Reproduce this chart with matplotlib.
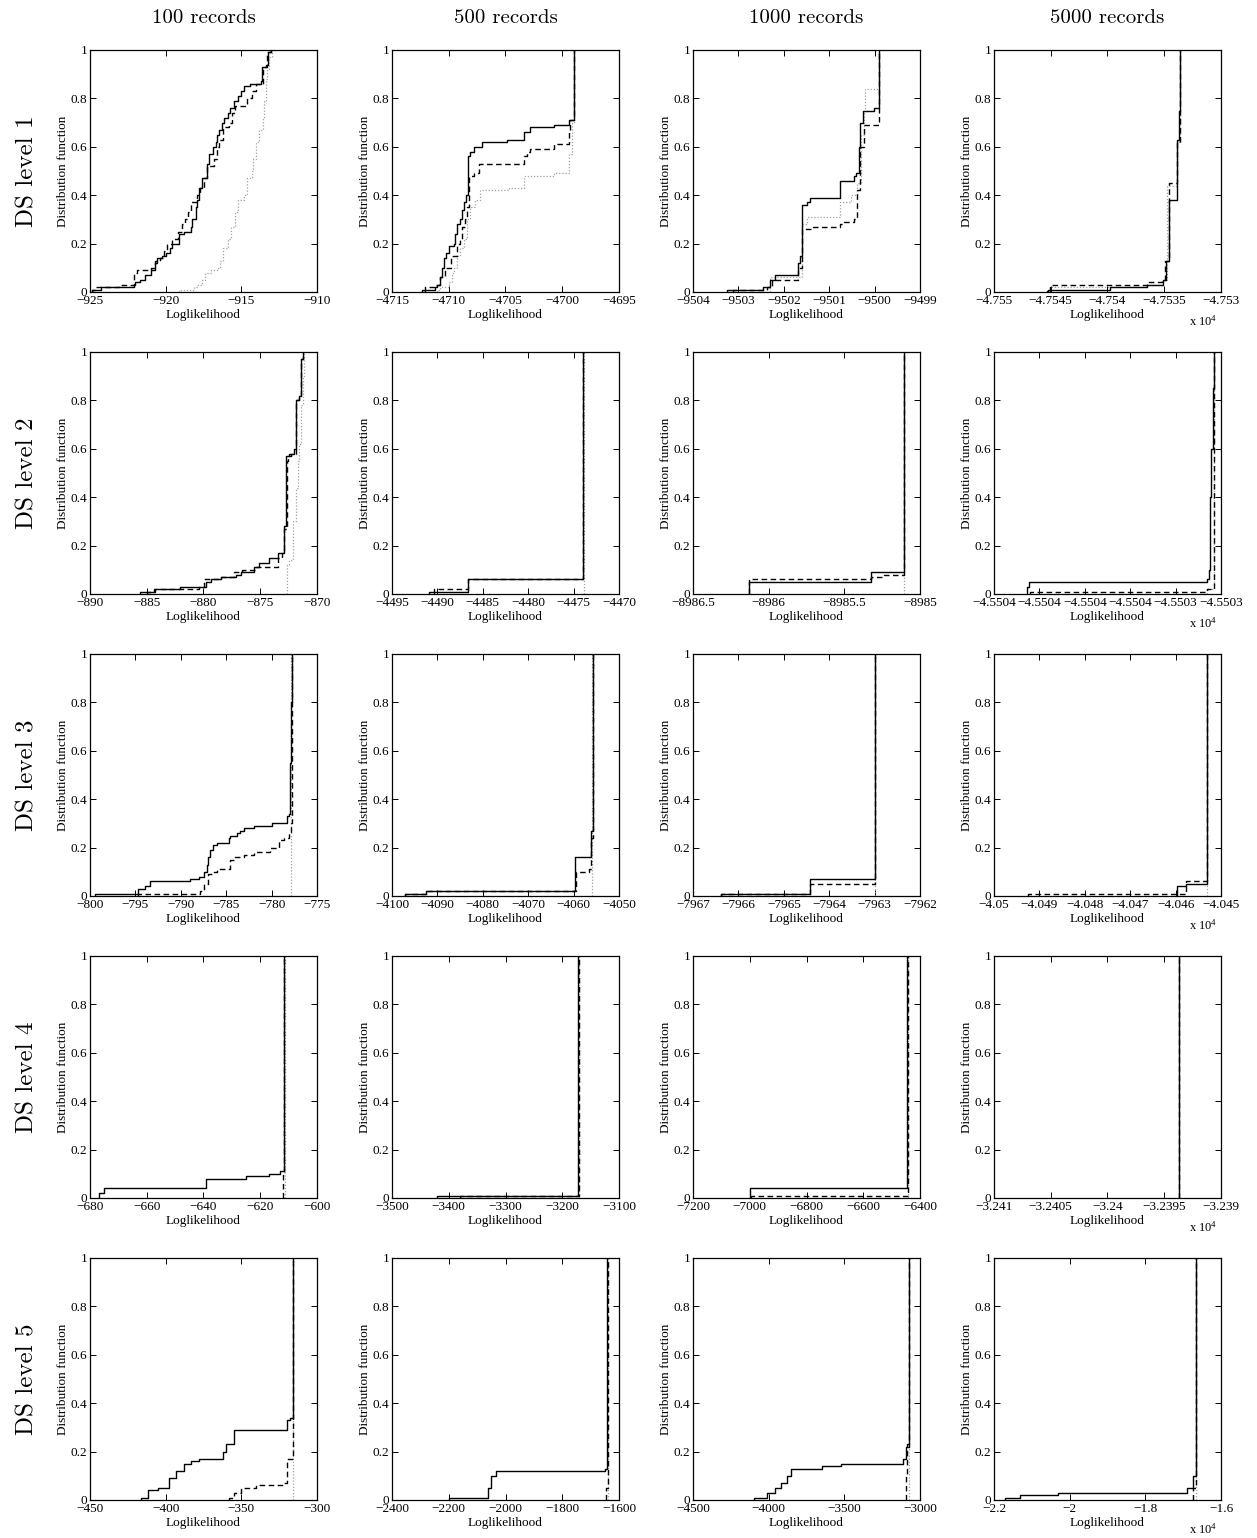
import numpy as np
import matplotlib
matplotlib.use("Agg")
import matplotlib.pyplot as plt

plt.rcParams['font.family'] = ['Liberation Serif', 'DejaVu Serif']
plt.rcParams['mathtext.fontset'] = 'custom'
plt.rcParams['mathtext.rm'] = 'Liberation Serif'
plt.rcParams['mathtext.it'] = 'Liberation Serif:italic'
plt.rcParams['axes.unicode_minus'] = True

# ---------------- labels ----------------
col_titles = ["100 records", "500 records", "1000 records", "5000 records"]
row_titles = ["DS level 1", "DS level 2", "DS level 3", "DS level 4", "DS level 5"]
y_ticks = [0, 0.2, 0.4, 0.6, 0.8, 1]
y_ticklabels = ["0", "0.2", "0.4", "0.6", "0.8", "1"]

# ---------------- row 1 ----------------
r1c1_xticks = [-925, -920, -915, -910]
r1c1_solid_x = [-924.9, -924.3, -923.8, -922.1, -922.0, -921.7, -921.35, -921.0, -920.7, -920.6, -920.25,
                -920.0, -919.7, -919.6, -919.15, -918.8, -918.35, -918.25, -918.0, -917.9, -917.8, -917.6,
                -917.25, -917.15, -916.9, -916.7, -916.6, -916.5, -916.25, -916.15, -915.9, -915.75, -915.5,
                -915.25, -915.05, -914.8, -914.4, -913.7, -913.65, -913.4, -913.25, -913.05]
r1c1_solid_y = [0.01, 0.02, 0.02, 0.03, 0.04, 0.05, 0.07, 0.09, 0.12, 0.14, 0.15,
                0.16, 0.18, 0.20, 0.24, 0.25, 0.27, 0.30, 0.35, 0.38, 0.43, 0.47,
                0.53, 0.57, 0.60, 0.62, 0.65, 0.67, 0.70, 0.72, 0.74, 0.76, 0.79,
                0.81, 0.83, 0.85, 0.86, 0.87, 0.93, 0.94, 0.99, 1.0]
r1c1_dash_x = [-924.9, -924.7, -923.1, -922.1, -921.9, -921.0, -920.7, -920.4, -920.1, -919.9, -919.6,
               -919.2, -918.9, -918.7, -918.5, -918.3, -917.9, -917.7, -917.5, -917.3, -916.8, -916.6,
               -916.5, -916.2, -915.8, -915.6, -915.4, -914.6, -914.3, -914.0, -913.6, -913.3, -913.05]
r1c1_dash_y = [0.01, 0.02, 0.03, 0.08, 0.09, 0.10, 0.13, 0.14, 0.17, 0.20, 0.22,
               0.25, 0.28, 0.30, 0.33, 0.37, 0.40, 0.43, 0.47, 0.52, 0.55, 0.60,
               0.63, 0.68, 0.70, 0.74, 0.77, 0.80, 0.83, 0.86, 0.93, 0.99, 1.0]
r1c1_dot_x = [-919.1, -918.1, -917.9, -917.6, -917.4, -917.0, -916.6, -916.4, -916.2, -915.9, -915.7,
              -915.4, -915.2, -914.8, -914.6, -914.3, -914.2, -914.0, -913.8, -913.6, -913.5, -913.4,
              -913.3, -913.2, -913.0]
r1c1_dot_y = [0.01, 0.02, 0.03, 0.05, 0.08, 0.09, 0.10, 0.13, 0.18, 0.22, 0.27,
              0.33, 0.38, 0.40, 0.47, 0.50, 0.55, 0.62, 0.67, 0.72, 0.79, 0.88,
              0.92, 0.97, 1.0]

r1c2_xticks = [-4715, -4710, -4705, -4700, -4695]
r1c2_solid_x = [-4712.36, -4711.18, -4711.04, -4710.74, -4710.59, -4710.45, -4710.21, -4710.01, -4709.57,
                -4709.42, -4709.27, -4708.98, -4708.83, -4708.63, -4708.45, -4708.33, -4708.10, -4707.80,
                -4707.07, -4704.87, -4703.40, -4702.81, -4700.76, -4699.43, -4698.99]
r1c2_solid_y = [0.01, 0.02, 0.03, 0.06, 0.10, 0.14, 0.16, 0.19, 0.20,
                0.24, 0.28, 0.30, 0.34, 0.37, 0.40, 0.56, 0.58, 0.60,
                0.62, 0.63, 0.66, 0.68, 0.69, 0.71, 1.0]
r1c2_dash_x = [-4712.06, -4711.18, -4710.74, -4710.30, -4709.80, -4709.27, -4708.98, -4708.83, -4708.54,
               -4708.39, -4708.25, -4707.80, -4707.31, -4703.40, -4703.11, -4702.81, -4700.76, -4699.43,
               -4699.29, -4698.99]
r1c2_dash_y = [0.02, 0.03, 0.06, 0.10, 0.15, 0.20, 0.22, 0.27, 0.30,
               0.35, 0.48, 0.49, 0.53, 0.56, 0.58, 0.59, 0.61, 0.66,
               0.71, 1.0]
r1c2_dot_x = [-4711.04, -4710.74, -4710.01, -4709.71, -4709.57, -4709.27, -4708.98, -4708.69, -4708.39,
              -4708.10, -4707.66, -4707.22, -4704.72, -4703.40, -4700.76, -4699.43, -4699.14, -4698.99]
r1c2_dot_y = [0.01, 0.02, 0.04, 0.08, 0.10, 0.15, 0.18, 0.22, 0.30,
              0.35, 0.38, 0.42, 0.43, 0.48, 0.49, 0.57, 0.70, 1.0]

r1c3_xticks = [-9504, -9503, -9502, -9501, -9500, -9499]
r1c3_solid_x = [-9503.26, -9502.45, -9502.30, -9502.19, -9501.68, -9501.64, -9501.60, -9501.49, -9501.42,
                -9500.76, -9500.46, -9500.42, -9500.35, -9500.33, -9500.25, -9500.02, -9499.91]
r1c3_solid_y = [0.01, 0.02, 0.05, 0.07, 0.12, 0.15, 0.36, 0.37, 0.39,
                0.46, 0.48, 0.49, 0.60, 0.70, 0.75, 0.76, 1.0]
r1c3_dash_x = [-9503.12, -9502.38, -9502.27, -9501.68, -9501.60, -9501.35, -9500.76, -9500.68, -9500.46,
               -9500.39, -9500.33, -9500.24, -9499.91]
r1c3_dash_y = [0.01, 0.02, 0.05, 0.10, 0.26, 0.27, 0.28, 0.29, 0.30,
               0.42, 0.60, 0.69, 1.0]
r1c3_dot_x = [-9502.30, -9501.60, -9501.49, -9500.76, -9500.53, -9500.39, -9500.31, -9500.24, -9500.22,
              -9499.91]
r1c3_dot_y = [0.06, 0.28, 0.31, 0.37, 0.40, 0.45, 0.65, 0.75, 0.84, 1.0]

r1c4_xticks = [-47550, -47545, -47540, -47535, -47530]
r1c4_xticklabels = ["-4.755", "-4.7545", "-4.754", "-4.7535", "-4.753"]
r1c4_solid_x = [-47545.29, -47545.23, -47539.78, -47536.54, -47535.07, -47534.83, -47534.62, -47533.89,
                -47533.74, -47533.59]
r1c4_solid_y = [0.005, 0.01, 0.02, 0.03, 0.05, 0.13, 0.38, 0.63, 0.75, 1.0]
r1c4_dash_x = [-47545.08, -47536.54, -47535.21, -47534.92, -47534.62, -47533.89, -47533.59]
r1c4_dash_y = [0.03, 0.04, 0.05, 0.13, 0.45, 0.62, 1.0]
r1c4_dot_x = [-47545.08, -47536.54, -47535.07, -47534.77, -47533.89, -47533.59]
r1c4_dot_y = [0.02, 0.03, 0.05, 0.44, 0.62, 1.0]

# ---------------- row 2 ----------------
r2c1_xticks = [-890, -885, -880, -875, -870]
r2c1_solid_x = [-885.58, -884.40, -882.04, -879.82, -879.38, -878.50, -877.17, -876.73, -875.55, -875.10,
                -874.22, -873.48, -872.95, -872.74, -872.45, -872.01, -871.86, -871.56, -871.42, -871.27]
r2c1_solid_y = [0.01, 0.02, 0.03, 0.05, 0.06, 0.07, 0.08, 0.09, 0.11, 0.13,
                0.15, 0.17, 0.28, 0.57, 0.58, 0.60, 0.80, 0.82, 0.97, 1.0]
r2c1_dash_x = [-884.99, -884.25, -880.41, -879.97, -878.50, -877.32, -876.58, -875.40, -873.48, -873.04,
               -872.89, -872.65, -872.54, -872.30, -871.86, -871.56, -871.42, -871.27]
r2c1_dash_y = [0.01, 0.02, 0.03, 0.06, 0.07, 0.09, 0.10, 0.11, 0.15, 0.17,
               0.27, 0.55, 0.57, 0.58, 0.80, 0.82, 0.97, 1.0]
r2c1_dot_x = [-872.65, -872.45, -872.15, -871.86, -871.71, -871.56, -871.42, -871.27, -871.12]
r2c1_dot_y = [0.12, 0.14, 0.30, 0.44, 0.55, 0.62, 0.78, 0.90, 1.0]

r2c2_xticks = [-4495, -4490, -4485, -4480, -4475, -4470]
r2c2_solid_x = [-4490.89, -4486.68, -4473.92]
r2c2_solid_y = [0.01, 0.06, 1.0]
r2c2_dash_x = [-4490.34, -4486.68, -4473.92]
r2c2_dash_y = [0.02, 0.06, 1.0]
r2c2_dot_x = [-4473.85]
r2c2_dot_y = [1.0]

r2c3_xticks = [-8986.5, -8986, -8985.5, -8985]
r2c3_xticklabels = ["-8986.5", "-8986", "-8985.5", "-8985"]
r2c3_solid_x = [-8986.128, -8985.321, -8985.106]
r2c3_solid_y = [0.05, 0.09, 1.0]
r2c3_dash_x = [-8986.128, -8985.321, -8985.239, -8985.106]
r2c3_dash_y = [0.06, 0.07, 0.08, 1.0]
r2c3_dot_x = [-8985.104]
r2c3_dot_y = [1.0]

r2c4_xticks = [-45504.2, -45504.0, -45503.8, -45503.6, -45503.4, -45503.2]
r2c4_xticklabels = ["-4.5504", "-4.5504", "-4.5504", "-4.5504", "-4.5503", "-4.5503"]
r2c4_solid_x = [-45504.053, -45504.047, -45503.262, -45503.255, -45503.250, -45503.244, -45503.237, -45503.232]
r2c4_solid_y = [0.03, 0.05, 0.06, 0.10, 0.40, 0.60, 0.85, 1.0]
r2c4_dash_x = [-45504.043, -45503.262, -45503.232]
r2c4_dash_y = [0.01, 0.02, 1.0]
r2c4_dot_x = [-45503.262, -45503.232]
r2c4_dot_y = [0.02, 1.0]

# ---------------- row 3 ----------------
r3c1_xticks = [-800, -795, -790, -785, -780, -775]
r3c1_solid_x = [-799.45, -794.67, -793.93, -793.38, -788.97, -788.05, -787.50, -787.13, -786.95, -786.76,
                -786.40, -786.03, -784.74, -784.56, -783.82, -783.46, -783.09, -781.99, -779.96, -778.31,
                -778.13, -777.94, -777.87, -777.76]
r3c1_solid_y = [0.01, 0.03, 0.04, 0.06, 0.07, 0.08, 0.10, 0.13, 0.16, 0.19,
                0.21, 0.22, 0.24, 0.25, 0.26, 0.27, 0.28, 0.29, 0.30, 0.33,
                0.34, 0.55, 0.80, 1.0]
r3c1_dash_x = [-794.67, -787.87, -787.50, -786.95, -786.58, -786.03, -784.56, -784.01, -783.09, -781.99,
               -780.15, -779.23, -778.68, -778.13, -777.87, -777.76]
r3c1_dash_y = [0.01, 0.02, 0.05, 0.09, 0.10, 0.11, 0.15, 0.16, 0.17, 0.18,
               0.20, 0.23, 0.24, 0.26, 0.30, 1.0]
r3c1_dot_x = [-777.87]
r3c1_dot_y = [1.0]

r3c2_xticks = [-4100, -4090, -4080, -4070, -4060, -4050]
r3c2_solid_x = [-4097.07, -4092.52, -4059.68, -4056.23, -4055.72]
r3c2_solid_y = [0.01, 0.02, 0.16, 0.27, 1.0]
r3c2_dash_x = [-4097.07, -4092.52, -4059.53, -4056.60, -4056.09, -4055.72]
r3c2_dash_y = [0.01, 0.02, 0.10, 0.11, 0.24, 1.0]
r3c2_dot_x = [-4055.87]
r3c2_dot_y = [1.0]

r3c3_xticks = [-7967, -7966, -7965, -7964, -7963, -7962]
r3c3_solid_x = [-7966.39, -7964.42, -7963.00]
r3c3_solid_y = [0.01, 0.07, 1.0]
r3c3_dash_x = [-7966.39, -7964.42, -7963.00]
r3c3_dash_y = [0.01, 0.05, 1.0]
r3c3_dot_x = [-7962.99]
r3c3_dot_y = [1.0]

r3c4_xticks = [-40500, -40490, -40480, -40470, -40460, -40450]
r3c4_xticklabels = ["-4.05", "-4.049", "-4.048", "-4.047", "-4.046", "-4.045"]
r3c4_solid_x = [-40459.75, -40457.75, -40453.10]
r3c4_solid_y = [0.04, 0.05, 1.0]
r3c4_dash_x = [-40492.61, -40457.75, -40453.10]
r3c4_dash_y = [0.01, 0.06, 1.0]
r3c4_dot_x = [-40453.05]
r3c4_dot_y = [1.0]

# ---------------- row 4 ----------------
r4c1_xticks = [-680, -660, -640, -620, -600]
r4c1_solid_x = [-677, -675, -639, -625, -617, -613, -611.5]
r4c1_solid_y = [0.02, 0.04, 0.08, 0.09, 0.10, 0.11, 1.0]
r4c1_dash_x = [-612.0, -611.7]
r4c1_dash_y = [0.10, 1.0]
r4c1_dot_x = [-611.4]
r4c1_dot_y = [1.0]

r4c2_xticks = [-3500, -3400, -3300, -3200, -3100]
r4c2_solid_x = [-3420, -3172]
r4c2_solid_y = [0.01, 1.0]
r4c2_dash_x = [-3380, -3171]
r4c2_dash_y = [0.01, 1.0]
r4c2_dot_x = [-3170]
r4c2_dot_y = [1.0]

r4c3_xticks = [-7200, -7000, -6800, -6600, -6400]
r4c3_solid_x = [-7000, -6445]
r4c3_solid_y = [0.04, 1.0]
r4c3_dash_x = [-6995, -6444]
r4c3_dash_y = [0.01, 1.0]
r4c3_dot_x = [-6443]
r4c3_dot_y = [1.0]

r4c4_xticks = [-32410, -32405, -32400, -32395, -32390]
r4c4_xticklabels = ["-3.241", "-3.2405", "-3.24", "-3.2395", "-3.239"]
r4c4_solid_x = [-32393.7]
r4c4_solid_y = [1.0]
r4c4_dash_x = [-32393.7]
r4c4_dash_y = [1.0]
r4c4_dot_x = [-32393.7]
r4c4_dot_y = [1.0]

# ---------------- row 5 ----------------
r5c1_xticks = [-450, -400, -350, -300]
r5c1_solid_x = [-416, -412, -405, -398, -393, -388, -383, -378, -362, -360, -355, -320, -318, -316]
r5c1_solid_y = [0.01, 0.04, 0.05, 0.09, 0.12, 0.15, 0.16, 0.17, 0.20, 0.23, 0.29, 0.33, 0.34, 1.0]
r5c1_dash_x = [-358, -355, -350, -340, -322, -320, -316]
r5c1_dash_y = [0.01, 0.03, 0.05, 0.06, 0.07, 0.17, 1.0]
r5c1_dot_x = [-316]
r5c1_dot_y = [1.0]

r5c2_xticks = [-2400, -2200, -2000, -1800, -1600]
r5c2_solid_x = [-2200, -2060, -2050, -2035, -1650, -1642]
r5c2_solid_y = [0.01, 0.05, 0.10, 0.12, 0.13, 1.0]
r5c2_dash_x = [-1645, -1640]
r5c2_dash_y = [0.05, 1.0]
r5c2_dot_x = [-1640]
r5c2_dot_y = [1.0]

r5c3_xticks = [-4500, -4000, -3500, -3000]
r5c3_solid_x = [-4100, -4010, -3960, -3920, -3880, -3850, -3650, -3520, -3110, -3090, -3075]
r5c3_solid_y = [0.01, 0.03, 0.05, 0.07, 0.10, 0.13, 0.14, 0.15, 0.17, 0.22, 1.0]
r5c3_dash_x = [-3090, -3085, -3070]
r5c3_dash_y = [0.10, 0.23, 1.0]
r5c3_dot_x = [-3070]
r5c3_dot_y = [1.0]

r5c4_xticks = [-22000, -20000, -18000, -16000]
r5c4_xticklabels = ["-2.2", "-2", "-1.8", "-1.6"]
r5c4_solid_x = [-21700, -21300, -20300, -16900, -16750, -16650]
r5c4_solid_y = [0.01, 0.02, 0.03, 0.05, 0.10, 1.0]
r5c4_dash_x = [-16750, -16650]
r5c4_dash_y = [0.05, 1.0]
r5c4_dot_x = [-16650]
r5c4_dot_y = [1.0]

# ---------------- drawing ----------------
W, H = 1257, 1538
fig = plt.figure(figsize=(W / 100, H / 100), dpi=100)

col_left = [90, 392, 693, 994]
row_top = [50, 352, 654, 956, 1258]
ax_w, ax_h = 227, 242

g = globals()


def stairs(ax, xs, ys, **kw):
    xs = np.asarray(xs, float)
    ys = np.asarray(ys, float)
    ax.step(np.r_[xs[0], xs], np.r_[0.0, ys], where='post', **kw)


def fmt(v):
    return v.replace('-', '\u2212')


for r in range(5):
    for c in range(4):
        key = f"r{r+1}c{c+1}"
        ax = fig.add_axes([col_left[c] / W, 1 - (row_top[r] + ax_h) / H, ax_w / W, ax_h / H])
        stairs(ax, g[key + "_dot_x"], g[key + "_dot_y"], color='#a0a0a0', lw=0.9,
               linestyle=(0, (1, 1.5)))
        stairs(ax, g[key + "_dash_x"], g[key + "_dash_y"], color='black', lw=1.0,
               linestyle=(0, (4, 2.5)))
        stairs(ax, g[key + "_solid_x"], g[key + "_solid_y"], color='black', lw=1.0)
        xt = g[key + "_xticks"]
        ax.set_xlim(xt[0], xt[-1])
        ax.set_ylim(0, 1)
        ax.set_xticks(xt)
        if key + "_xticklabels" in g:
            labels = g[key + "_xticklabels"]
        else:
            labels = [('%g' % v) for v in xt]
        ax.set_xticklabels([fmt(s) for s in labels])
        ax.set_yticks(y_ticks)
        ax.set_yticklabels(y_ticklabels)
        ax.tick_params(direction='in', top=True, right=True, length=4, width=0.7,
                       labelsize=9.5, pad=2)
        for s in ax.spines.values():
            s.set_linewidth(0.9)
        ax.set_xlabel("Loglikelihood", fontsize=9.5, labelpad=1.5)
        ax.set_ylabel("Distribution function", fontsize=9.5, labelpad=1)
        if c == 3:
            ax.text(0.985, -0.092, r"x 10$^{4}$", transform=ax.transAxes, ha='right', va='top',
                    fontsize=9)
        if r == 0:
            fig.text((col_left[c] + ax_w / 2) / W, 1 - 18 / H, col_titles[c], ha='center',
                     va='center', fontsize=15, family=['cmr10', 'DejaVu Serif'])
    fig.text(27 / W, 1 - (row_top[r] + ax_h / 2) / H, row_titles[r], ha='center', va='center',
             rotation=90, fontsize=18, family=['cmr10', 'DejaVu Serif'])

fig.savefig("out.png", dpi=100, facecolor='white')
